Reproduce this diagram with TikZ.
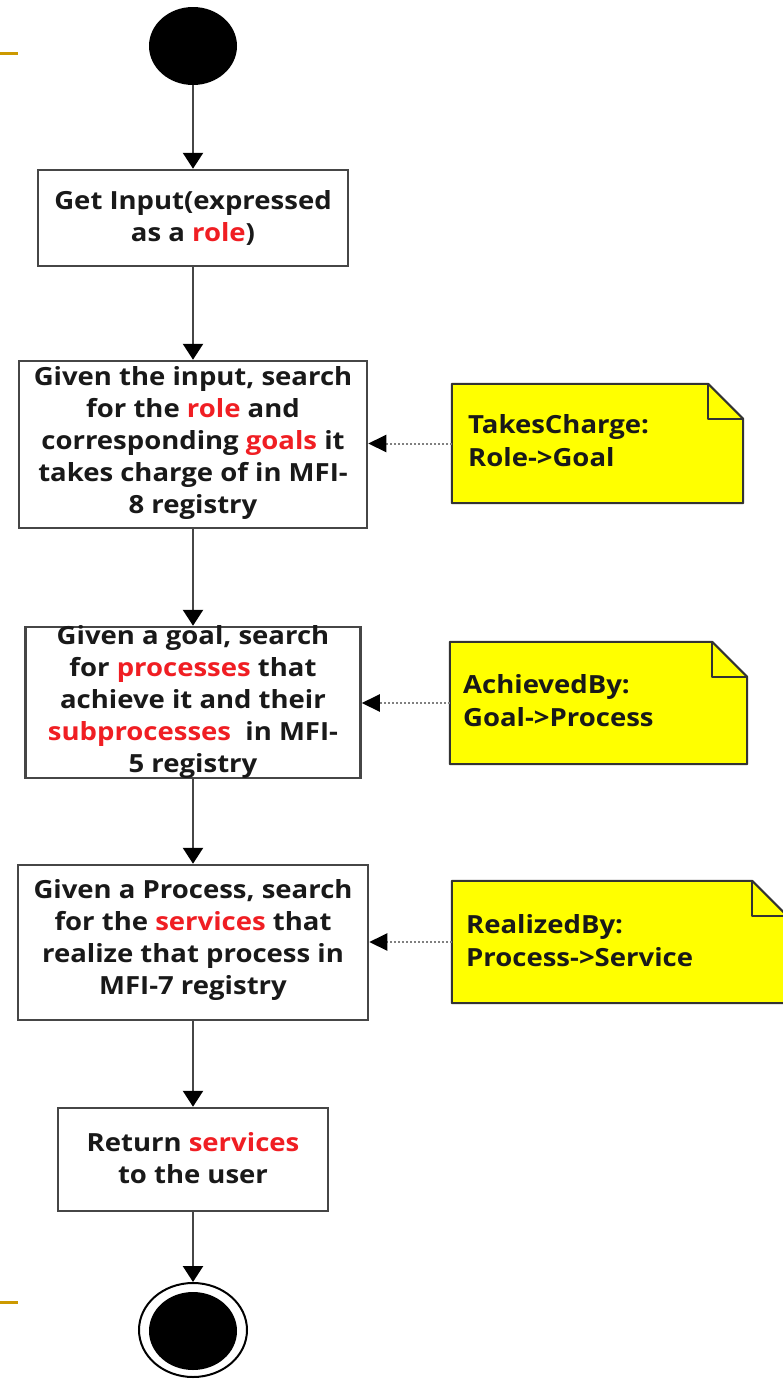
\documentclass[tikz,border=0pt]{standalone}
\usepackage{fontspec}
\setmainfont[FakeStretch=1.1]{Open Sans}
\usetikzlibrary{arrows.meta,shapes.geometric}
\definecolor{gold}{RGB}{204,153,0}
\definecolor{hl}{RGB}{240,30,35}
\definecolor{edge}{RGB}{70,70,70}
\definecolor{notey}{RGB}{255,255,0}
\newcommand{\hlw}[1]{\textcolor{hl}{#1}}
\begin{document}
\begin{tikzpicture}[x=1pt,y=-1pt,
  actbox/.style={draw=edge, line width=2.5pt, fill=white, inner sep=0pt, rectangle},
  acttext/.style={font=\bfseries\fontsize{25}{32}\selectfont, align=center, text=black!90, inner sep=0pt},
  notebody/.style={rectangle, inner sep=0pt},
  notetext/.style={font=\bfseries\fontsize{25}{33}\selectfont, align=left, anchor=west, inner sep=0pt, text=black!90},
  noteline/.style={draw=black!80, line width=2pt, line join=round},
  flow/.style={draw=edge, line width=2.5pt, -{Triangle[width=20pt,length=16pt,color=black]}},
  link/.style={draw=gray, line width=2pt, dotted, -{Triangle[width=17pt,length=18pt,color=black]}},
  startdot/.style={ellipse, fill=black, inner sep=0pt, minimum width=88pt, minimum height=78pt}
]
\useasboundingbox (0,0) rectangle (782,1379);
% template marks
\draw[gold, line width=3pt] (0,53) -- (18,53);
\draw[gold, line width=3pt] (0,1302) -- (18,1302);

% start / end
\node[startdot] (start) at (193,46) {};
\node[ellipse, draw=black, line width=2pt, fill=white, inner sep=0pt, minimum width=108pt, minimum height=94pt] (endo) at (193,1330) {};
\node[startdot] (endi) at (193,1331) {};

% activity boxes
\node[actbox, minimum width=310pt, minimum height=96pt] (b1) at (193,218) {};
\node[acttext] (t1) at (193,217.5) {Get Input(expressed\\as a \hlw{role})};

\node[actbox, minimum width=348pt, minimum height=167pt] (b2) at (193,444.5) {};
\node[acttext] (t2) at (193,442.5) {Given the input, search\\for the \hlw{role} and\\corresponding \hlw{goals} it\\takes charge of in MFI-\\8 registry};

\node[actbox, minimum width=335pt, minimum height=151pt] (b3) at (193,702.5) {};
\node[acttext] (t3) at (193,702) {Given a goal, search\\for \hlw{processes} that\\achieve it and their\\\hlw{subprocesses}\ \ in MFI-\\5 registry};

\node[actbox, minimum width=350pt, minimum height=155pt] (b4) at (193,942.5) {};
\node[acttext] (t4) at (193,939.5) {Given a Process, search\\for the \hlw{services} that\\realize that process in\\MFI-7 registry};

\node[actbox, minimum width=270pt, minimum height=103pt] (b5) at (193,1159.5) {};
\node[acttext] (t5) at (193,1158.5) {Return \hlw{services}\\to the user};

% notes
\node[notebody, minimum width=291pt, minimum height=119pt] (n1) at (597.5,443.5) {};
\node[notebody, minimum width=297pt, minimum height=122pt] (n2) at (598.5,703) {};
\node[notebody, minimum width=335pt, minimum height=122pt] (n3) at (619.5,942) {};
\foreach \n in {n1,n2,n3}{
  \path[noteline, fill=notey] (\n.north west) -- ([shift={(-35,0)}]\n.north east) -- ([shift={(0,35)}]\n.north east) -- (\n.south east) -- (\n.south west) -- cycle;
  \path[noteline] ([shift={(-35,0)}]\n.north east) -- ([shift={(-35,35)}]\n.north east) -- ([shift={(0,35)}]\n.north east);
}
\node[notetext] (m1) at (468,440.5) {TakesCharge:\\Role->Goal};
\node[notetext] (m2) at (463,700.5) {AchievedBy:\\Goal->Process};
\node[notetext] (m3) at (466,941) {RealizedBy:\\Process->Service};

% flow
\draw[flow] (start.south) -- (b1.north);
\draw[flow] (b1.south) -- (b2.north);
\draw[flow] (b2.south) -- (b3.north);
\draw[flow] (b3.south) -- (b4.north);
\draw[flow] (b4.south) -- (b5.north);
\draw[flow] (b5.south) -- (endo.north);

% dotted links
\draw[link] (n1.west) -- (n1.west -| b2.east);
\draw[link] (n2.west) -- (n2.west -| b3.east);
\draw[link] (n3.west) -- (n3.west -| b4.east);
\end{tikzpicture}
\end{document}
